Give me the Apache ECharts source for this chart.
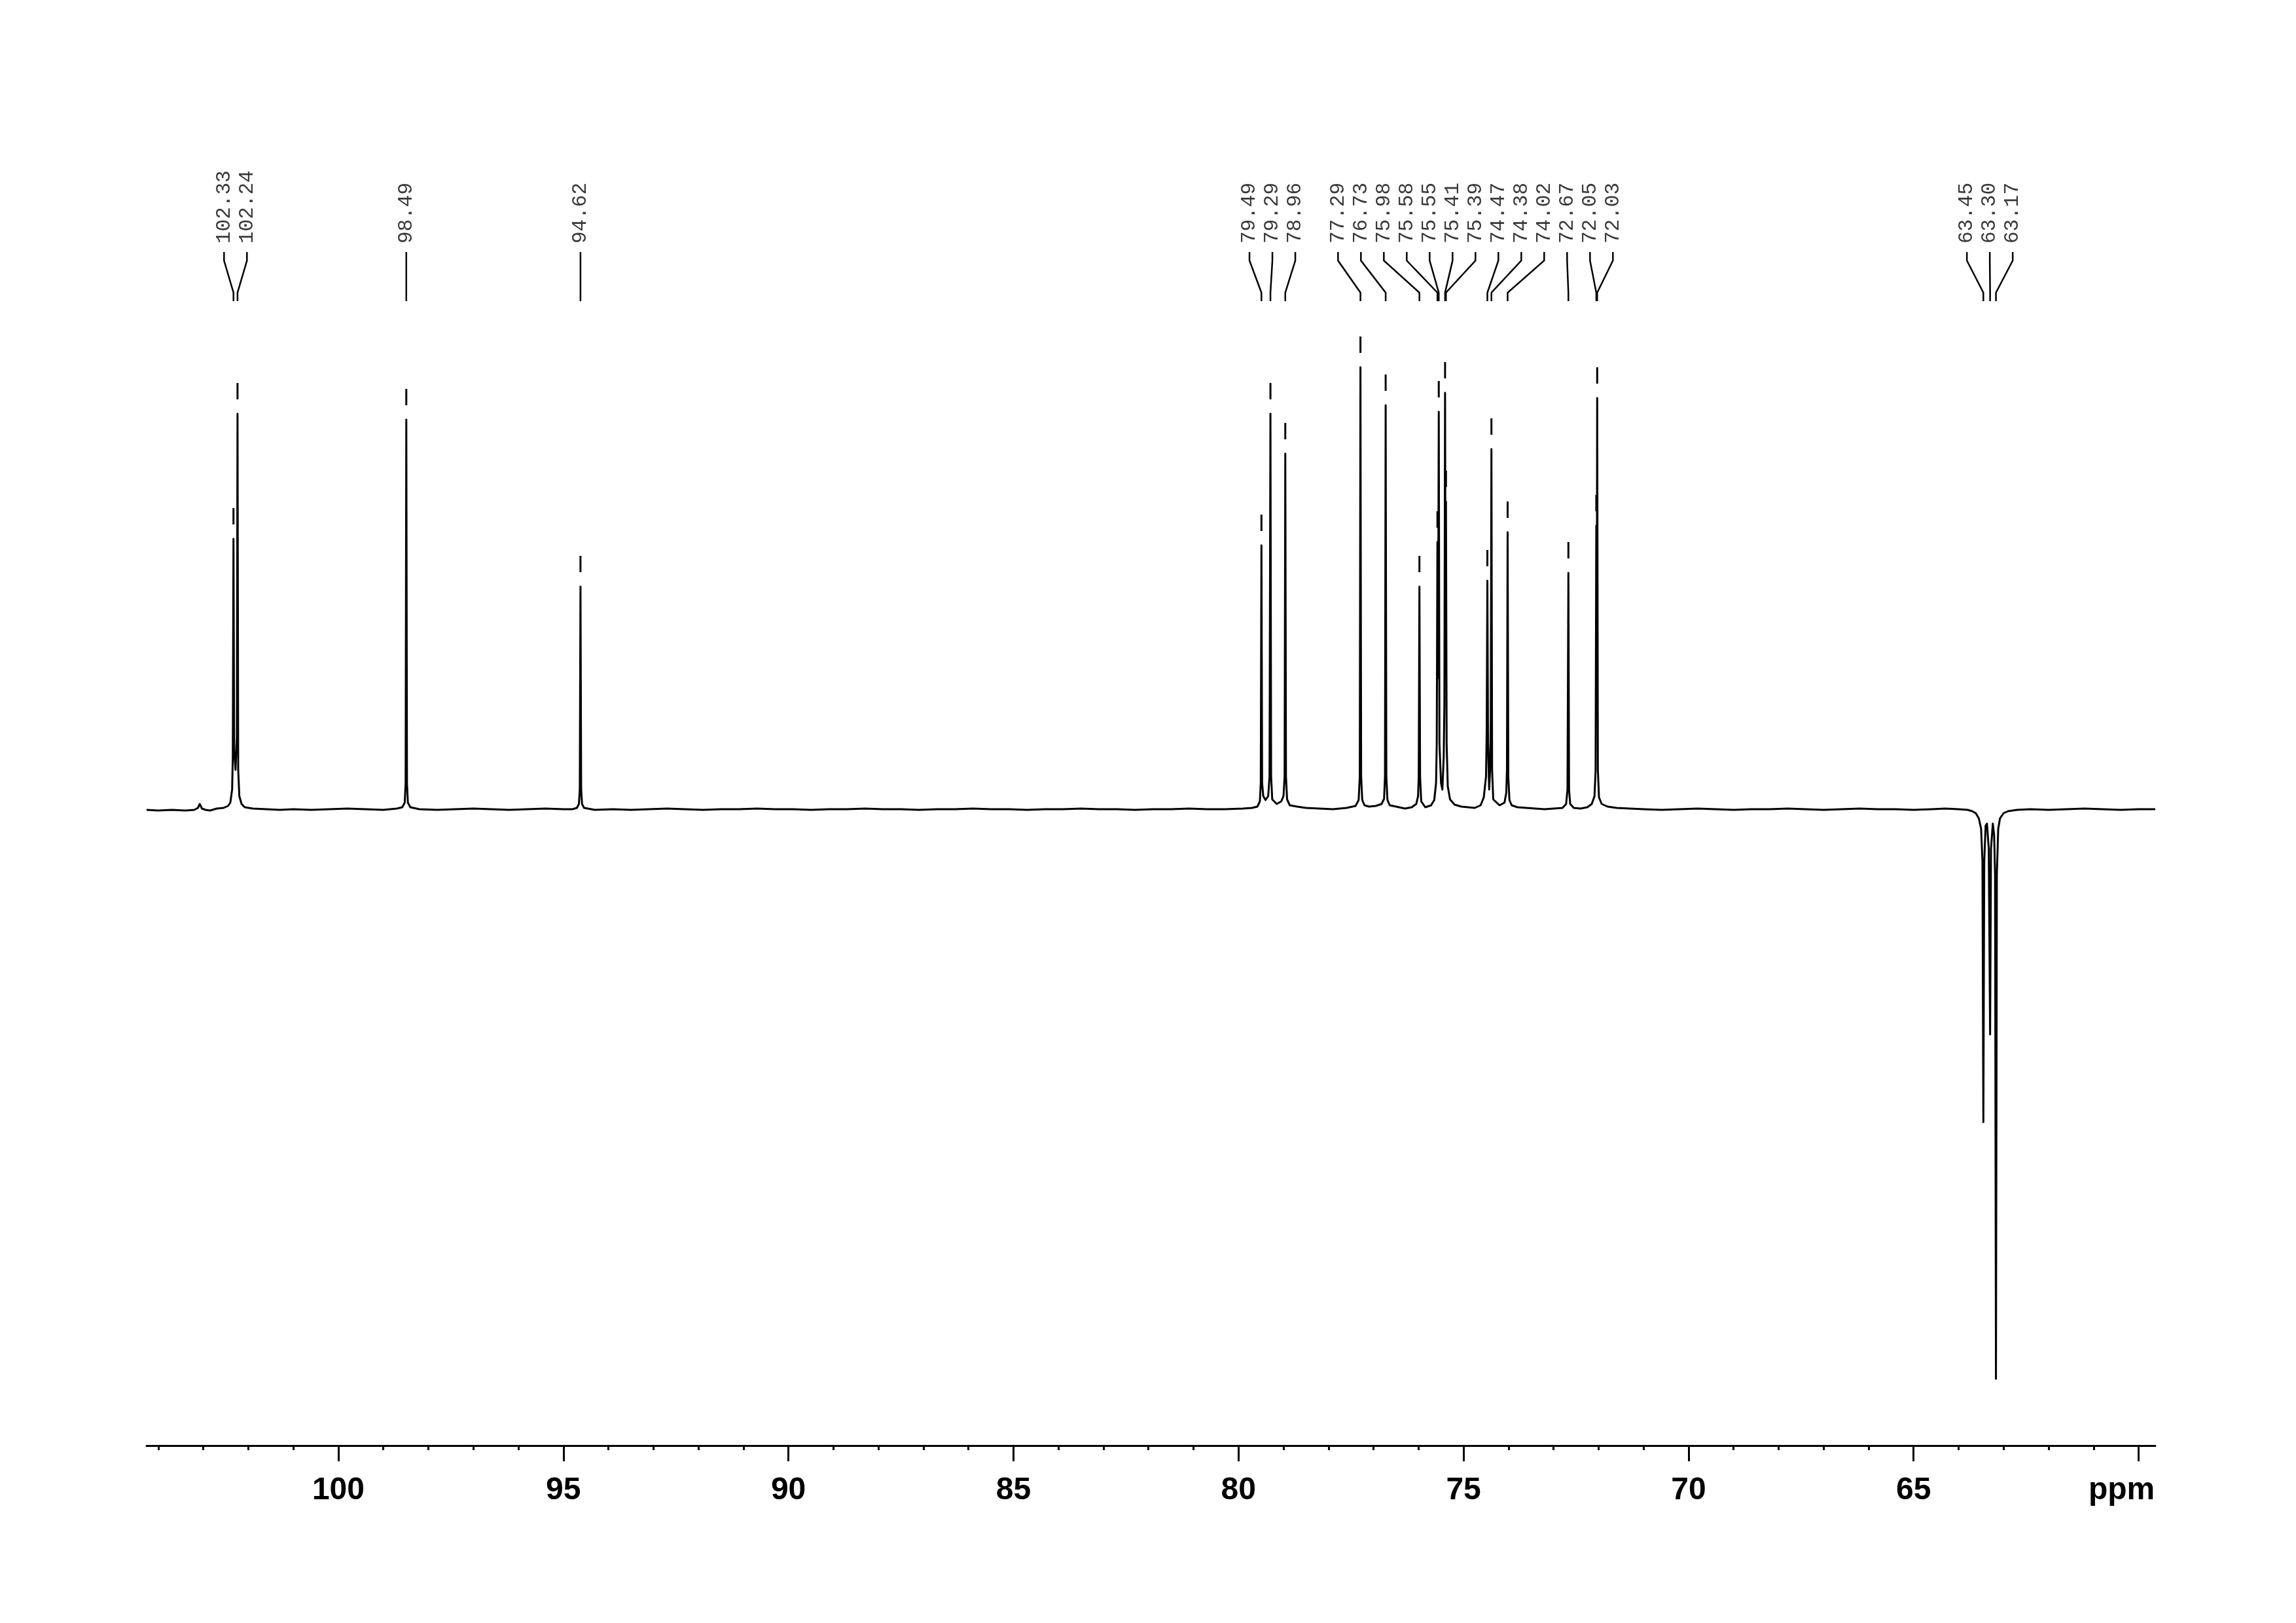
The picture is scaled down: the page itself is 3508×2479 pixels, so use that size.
<!DOCTYPE html>
<html>
<head>
<meta charset="utf-8">
<script src="https://cdn.jsdelivr.net/npm/echarts@6/dist/echarts.min.js"></script>
<style>
html,body{margin:0;padding:0;background:#fff;}
#chart{width:3508px;height:2479px;}
</style>
</head>
<body>
<div id="chart"></div>
<script>
// ---- Picked peaks (ppm) and their heights (arbitrary units, baseline = 0) ----
const peakPpm    = [102.33, 102.24, 98.49, 94.62, 79.49, 79.29, 78.96, 77.29, 76.73, 75.98, 75.58, 75.55, 75.41, 75.39, 74.47, 74.38, 74.02, 72.67, 72.05, 72.03, 63.45, 63.30, 63.17];
const peakHeight = [413,    604,    595,   340,   403,   604,   543,   675,   617,   340,   408,   607,   636,   470,   349,   550,   423,   361,   433,   628,   -478,  -344,  -870];
const peakLabels = peakPpm.map(v => v.toFixed(2));

// ---- Axis ticks ----
const axisMin = 59.63, axisMax = 104.26;
const majorTicks = [60, 65, 70, 75, 80, 85, 90, 95, 100];
const tickLabels = [60, 65, 70, 75, 80, 85, 90, 95, 100];
const minorTicks = [60,61,62,63,64,65,66,67,68,69,70,71,72,73,74,75,76,77,78,79,80,81,82,83,84,85,86,87,88,89,90,91,92,93,94,95,96,97,98,99,100,101,102,103,104];

// ---- Spectrum trace [ppm, intensity] ----
const spectrum = [
  [104.26,-1],[104.0,-2],[103.7,-1],[103.4,-2],[103.2,-1],[103.12,2],[103.08,8],[103.03,1],[102.95,-1],[102.85,-2],[102.7,1],[102.55,2],[102.45,5],
  [102.40,10],[102.36,30],[102.345,80],[102.33,413],[102.315,90],[102.285,60],[102.255,110],[102.24,604],[102.225,60],[102.2,20],[102.15,8],[102.08,3],
  [101.9,1],[101.6,0],[101.3,-1],[101.0,0],[100.6,-1],[100.2,0],[99.8,1],[99.4,0],[99.0,-1],[98.7,1],
  [98.58,3],[98.525,10],[98.505,40],[98.49,595],[98.475,40],[98.455,10],[98.40,3],
  [98.2,0],[97.8,-1],[97.4,0],[97.0,1],[96.6,0],[96.2,-1],[95.8,0],[95.4,1],[95.0,0],[94.8,0],
  [94.70,2],[94.655,8],[94.635,30],[94.62,340],[94.605,30],[94.585,8],[94.54,2],
  [94.3,-1],[93.9,0],[93.5,-1],[93.1,0],[92.7,1],[92.3,0],[91.9,-1],[91.5,0],[91.1,0],[90.7,1],[90.3,0],[89.9,0],[89.5,-1],[89.1,0],[88.7,0],[88.3,1],[87.9,0],[87.5,0],[87.1,-1],[86.7,0],[86.3,0],[85.9,1],[85.5,0],[85.1,0],[84.7,-1],[84.3,0],[83.9,0],[83.5,1],[83.1,0],[82.7,0],[82.3,-1],[81.9,0],[81.5,0],[81.1,1],[80.7,0],[80.3,0],[79.9,1],[79.7,2],
  [79.58,4],[79.525,12],[79.505,40],[79.49,403],[79.475,40],[79.45,20],[79.40,14],[79.34,20],[79.31,50],[79.29,604],[79.275,50],[79.25,15],[79.15,8],[79.05,12],[79.0,20],[78.975,50],[78.96,543],[78.945,50],[78.92,15],[78.86,6],
  [78.7,4],[78.5,2],[78.2,1],[77.9,0],[77.6,2],[77.4,5],
  [77.33,14],[77.305,50],[77.29,675],[77.275,50],[77.25,14],[77.2,6],[77.1,4],[76.95,5],[76.82,8],
  [76.765,16],[76.745,50],[76.73,617],[76.715,50],[76.69,14],[76.64,6],[76.5,4],[76.3,1],[76.15,3],[76.05,8],
  [76.01,20],[75.995,50],[75.98,340],[75.965,50],[75.94,12],[75.85,3],[75.72,6],[75.65,14],
  [75.61,40],[75.595,100],[75.58,408],[75.57,200],[75.565,250],[75.55,607],[75.535,100],[75.5,40],[75.47,30],[75.44,80],[75.425,160],[75.41,636],[75.40,300],[75.39,470],[75.375,100],[75.35,35],[75.30,15],[75.2,7],[75.05,4],[74.9,3],[74.75,2],[74.62,6],[74.55,18],
  [74.50,50],[74.485,120],[74.47,349],[74.455,100],[74.43,30],[74.41,60],[74.395,130],[74.38,550],[74.365,60],[74.34,15],[74.2,6],[74.09,10],[74.05,25],[74.035,60],[74.02,423],[74.005,50],[73.98,14],[73.93,6],
  [73.8,3],[73.6,2],[73.4,1],[73.2,0],[73.0,1],[72.8,2],
  [72.72,8],[72.69,30],[72.67,361],[72.655,30],[72.63,8],[72.55,2],[72.4,1],[72.25,3],[72.15,8],
  [72.09,20],[72.065,60],[72.05,433],[72.04,250],[72.03,628],[72.015,60],[71.99,18],[71.93,8],[71.8,4],[71.6,2],
  [71.3,1],[71.0,0],[70.6,-1],[70.2,0],[69.8,1],[69.4,0],[69.0,-1],[68.6,0],[68.2,0],[67.8,1],[67.4,0],[67.0,-1],[66.6,0],[66.2,1],[65.8,0],[65.4,0],[65.0,-1],[64.6,0],[64.3,1],[64.0,0],[63.8,-1],
  [63.7,-3],[63.62,-6],[63.55,-14],[63.50,-30],[63.47,-80],[63.45,-478],[63.43,-80],[63.40,-25],[63.37,-22],[63.33,-60],[63.30,-344],[63.28,-60],[63.24,-22],[63.21,-40],[63.19,-100],[63.17,-870],[63.15,-100],[63.12,-30],[63.08,-14],[63.0,-6],[62.9,-3],
  [62.7,-1],[62.4,0],[62.0,-1],[61.6,0],[61.2,1],[60.8,0],[60.4,-1],[60.0,0],[59.63,0]
];

// ---- Label layout (spread overlapping labels, centred on their peaks) ----
const LABEL_GAP = 35;
function layoutLabels(api) {
  const xs = peakPpm.map(p => api.coord([p, 0])[0]);
  const order = xs.map((x, i) => i).sort((a, b) => xs[a] - xs[b]);
  let groups = order.map(i => ({ members: [i], center: xs[i] }));
  let changed = true;
  while (changed) {
    changed = false;
    for (let g = 0; g < groups.length - 1; g++) {
      const A = groups[g], B = groups[g + 1];
      const aEnd = A.center + (A.members.length - 1) * LABEL_GAP / 2;
      const bStart = B.center - (B.members.length - 1) * LABEL_GAP / 2;
      if (bStart - aEnd < LABEL_GAP) {
        const members = A.members.concat(B.members);
        const center = members.reduce((s, i) => s + xs[i], 0) / members.length;
        groups.splice(g, 2, { members, center });
        changed = true;
        break;
      }
    }
  }
  const lx = [];
  groups.forEach(G => G.members.forEach((i, k) => {
    lx[i] = G.center + (k - (G.members.length - 1) / 2) * LABEL_GAP;
  }));
  return { xs, lx };
}

let layoutCache = null;
function renderPeakAnnot(params, api) {
  if (params.dataIndexInside === 0 || !layoutCache) layoutCache = layoutLabels(api);
  const i = params.dataIndex;
  const px = layoutCache.xs[i], lx = layoutCache.lx[i];
  const children = [
    { type: 'text', x: lx, y: 372, rotation: Math.PI / 2,
      style: { text: peakLabels[i], font: '31px "Liberation Mono", "DejaVu Sans Mono", monospace', fill: '#3a3a3a', align: 'left', verticalAlign: 'middle' } },
    { type: 'polyline', shape: { points: [[lx, 385], [lx, 398], [px, 447], [px, 460]] },
      style: { stroke: '#000', lineWidth: 2.5, fill: 'none' } }
  ];
  if (peakHeight[i] > 0) {
    const top = api.coord([peakPpm[i], peakHeight[i]]);
    children.push({ type: 'line', shape: { x1: top[0], y1: top[1] - 47, x2: top[0], y2: top[1] - 22 },
      style: { stroke: '#000', lineWidth: 3 } });
  }
  return { type: 'group', children };
}

const chart = echarts.init(document.getElementById('chart'), null, { renderer: 'canvas' });
chart.setOption({
  backgroundColor: '#ffffff',
  animation: false,
  grid: { left: 224, right: 215, top: 408, bottom: 271, containLabel: false, outerBoundsMode: 'none' },
  xAxis: [
    {
      type: 'value', min: axisMin, max: axisMax, inverse: true, position: 'bottom', offset: 0,
      splitLine: { show: false },
      axisLine: { show: true, onZero: false, lineStyle: { color: '#000', width: 3 } },
      axisTick: { show: true, customValues: majorTicks, length: 24, inside: false, lineStyle: { color: '#000', width: 3 } },
      axisLabel: {
        show: true, customValues: tickLabels, margin: 45,
        color: '#000', fontSize: 48, fontWeight: 'bold', fontFamily: '"Liberation Sans", Arial, sans-serif',
        formatter: v => (v === 60 ? '{p|ppm}' : String(v)),
        rich: { p: { fontSize: 48, fontWeight: 'bold', fontFamily: '"Liberation Sans", Arial, sans-serif', color: '#000', padding: [0, 52, 0, 0] } }
      }
    },
    {
      type: 'value', min: axisMin, max: axisMax, inverse: true, position: 'bottom', offset: 0,
      splitLine: { show: false },
      axisLine: { show: false, onZero: false },
      axisTick: { show: true, customValues: minorTicks, length: 7, lineStyle: { color: '#000', width: 3 } },
      axisLabel: { show: false }
    }
  ],
  yAxis: { type: 'value', min: -972, max: 828, show: false },
  series: [
    {
      type: 'line', xAxisIndex: 0, data: spectrum, showSymbol: false, symbol: 'none', silent: true,
      lineStyle: { color: '#000', width: 3, join: 'round' }
    },
    {
      type: 'custom', xAxisIndex: 0, silent: true, clip: false,
      data: peakPpm.map((p, i) => [p, peakHeight[i]]),
      encode: { x: 0, y: 1 },
      renderItem: renderPeakAnnot
    }
  ]
});
</script>
</body>
</html>
